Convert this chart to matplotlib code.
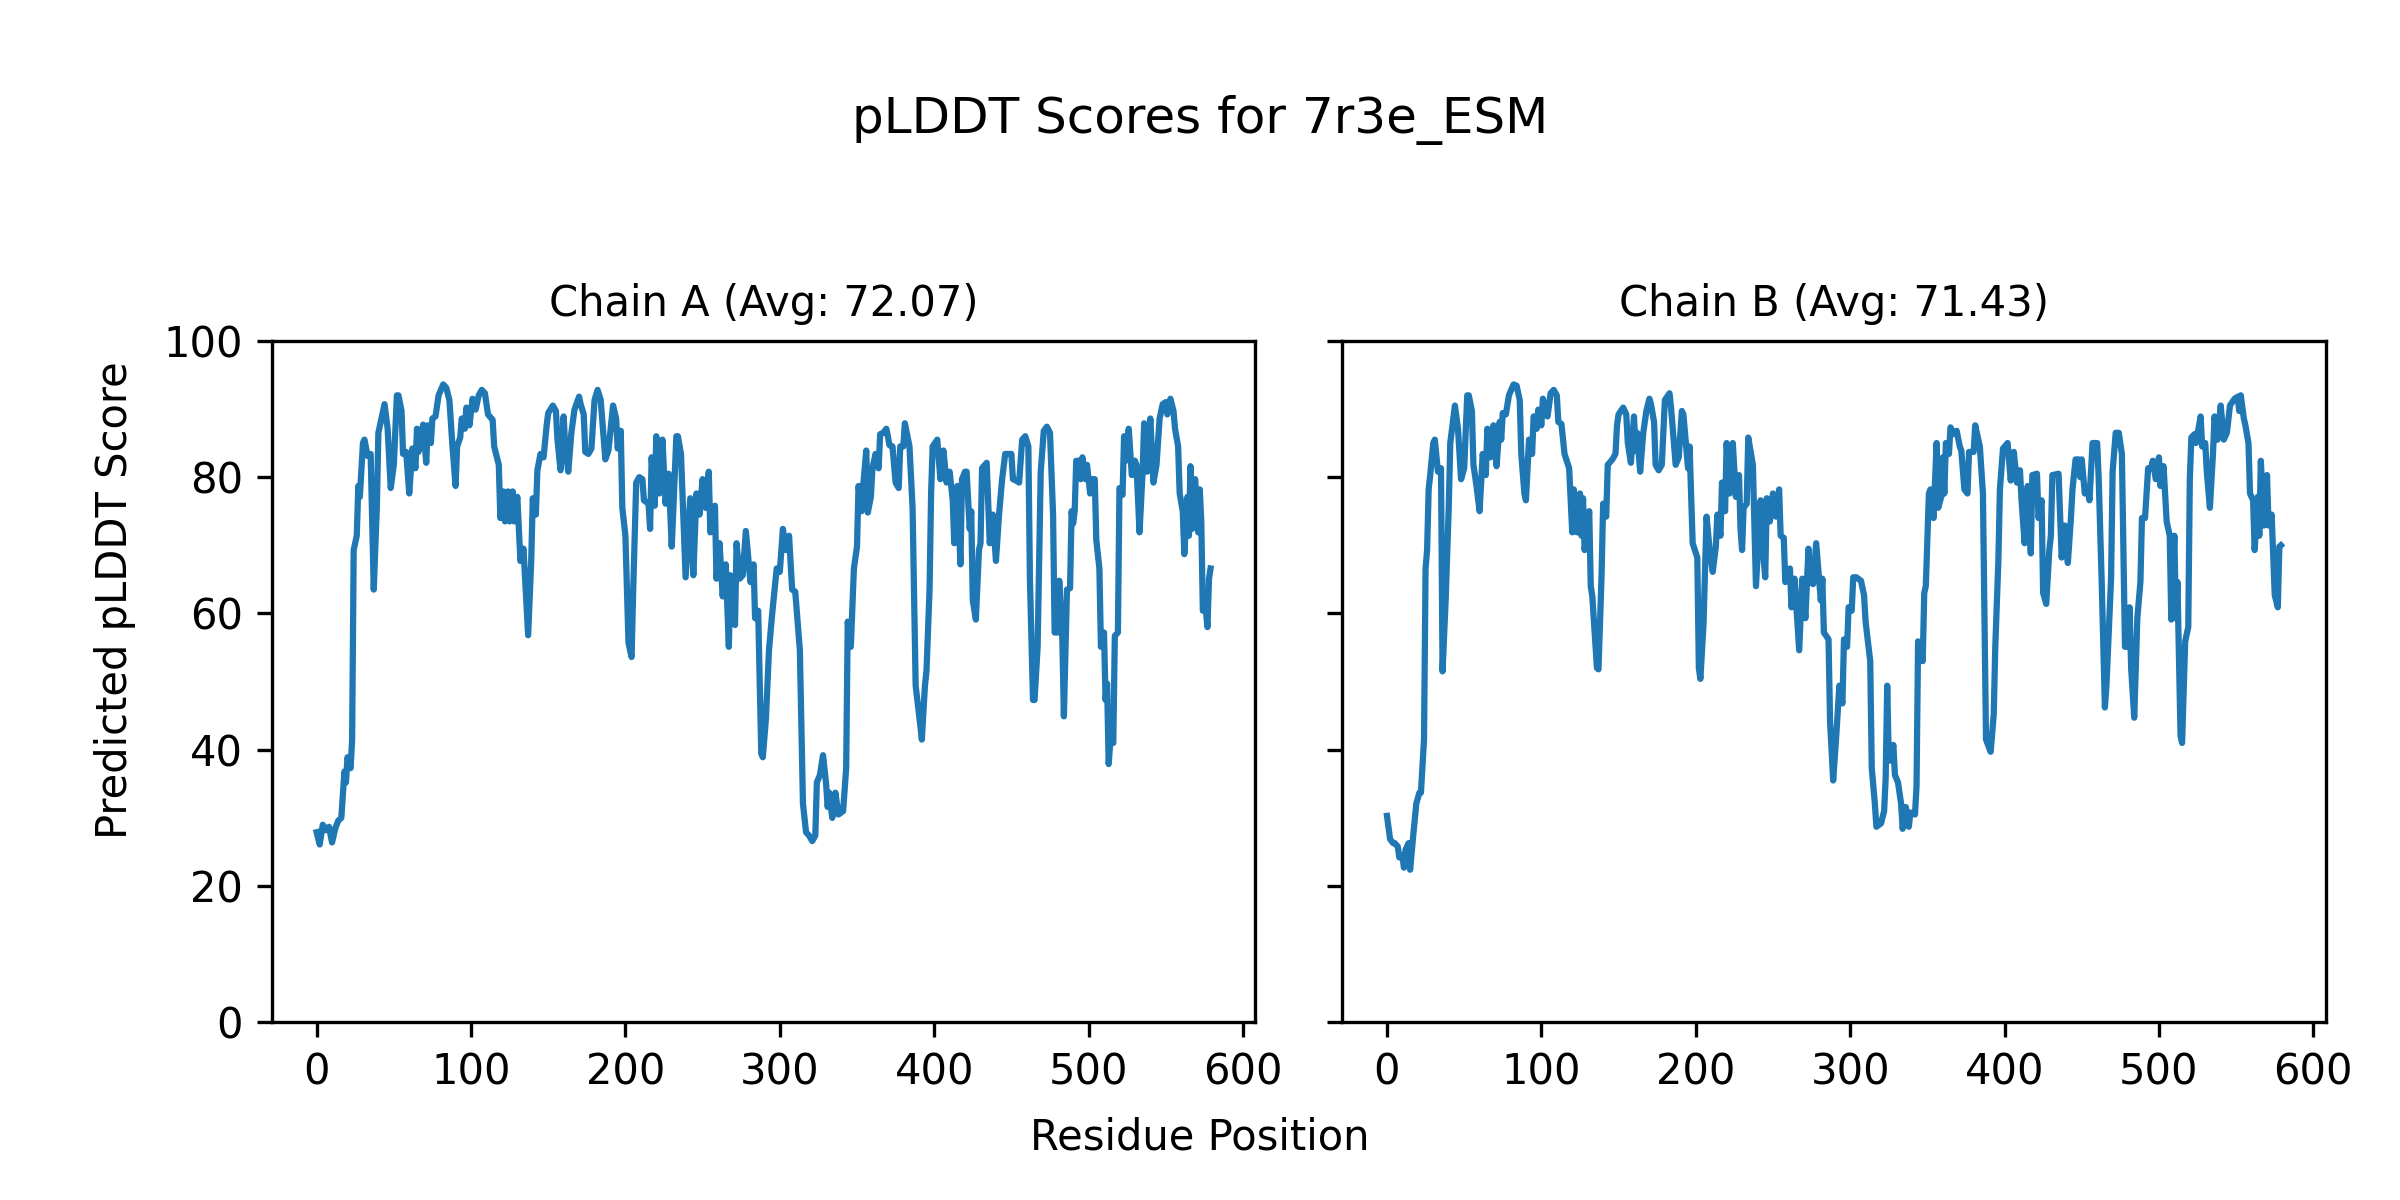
"""
pLDDT per-residue plot for the two chains of 7r3e_ESM
"""
import matplotlib
matplotlib.use('Agg')
import matplotlib.pyplot as plt

model_name = '7r3e_ESM'
chain_ids = ['A', 'B']
chain_avgs = [72.07, 71.43]

# values (residue position, pLDDT)
chain_a_pos = [0, 2, 4, 6, 8, 10, 12, 14, 16, 18, 19, 20, 22, 23, 24, 26, 27, 28, 30, 31,
               33, 35, 37, 39, 40, 44, 46, 48, 50, 52, 53, 55, 56, 58, 60, 62, 64, 65, 66, 69,
               71, 72, 74, 75, 77, 79, 82, 84, 86, 88, 90, 91, 93, 94, 96, 97, 99, 101, 103, 105,
               107, 109, 111, 114, 115, 118, 119, 121, 122, 124, 125, 127, 128, 130, 132, 134, 137, 139, 140, 142,
               143, 145, 147, 149, 150, 153, 155, 156, 158, 160, 161, 163, 165, 167, 170, 171, 173, 174, 176, 178,
               180, 182, 184, 187, 189, 192, 194, 195, 197, 198, 200, 202, 204, 205, 207, 209, 211, 212, 215, 216,
               217, 219, 220, 222, 224, 226, 228, 230, 231, 233, 234, 236, 239, 242, 244, 246, 248, 250, 252, 254,
               255, 258, 259, 261, 263, 265, 267, 268, 271, 272, 274, 276, 278, 281, 283, 284, 286, 288, 289, 291,
               293, 295, 298, 300, 302, 304, 306, 308, 310, 313, 315, 317, 319, 321, 323, 324, 326, 328, 330, 331,
               332, 334, 336, 338, 341, 343, 344, 346, 348, 350, 351, 353, 354, 356, 357, 359, 360, 362, 364, 365,
               367, 369, 370, 371, 373, 375, 377, 378, 380, 381, 384, 386, 388, 391, 392, 394, 395, 397, 398, 399,
               402, 404, 406, 408, 410, 412, 413, 415, 417, 418, 420, 421, 423, 424, 425, 427, 429, 430, 431, 434,
               436, 438, 440, 442, 444, 446, 448, 450, 451, 453, 455, 457, 459, 461, 462, 464, 465, 467, 469, 471,
               473, 475, 477, 478, 480, 481, 483, 484, 486, 488, 489, 490, 491, 492, 494, 495, 496, 498, 499, 501,
               502, 504, 505, 507, 508, 510, 511, 512, 513, 514, 516, 517, 519, 520, 522, 523, 524, 526, 528, 530,
               531, 533, 535, 536, 538, 540, 542, 544, 546, 548, 550, 551, 553, 555, 556, 558, 559, 561, 562, 564,
               565, 566, 567, 569, 571, 572, 573, 574, 576, 577, 578, 579]
chain_a_plddt = [27.9, 26.1, 29.0, 28.2, 28.7, 26.4, 28.4, 29.6, 30.0, 36.8, 35.2, 38.9, 37.3, 41.5, 69.3, 71.4, 78.7, 77.1, 85.0, 85.5,
                 83.1, 83.4, 63.5, 75.5, 86.5, 90.7, 87.1, 78.4, 81.8, 92.0, 92.0, 89.7, 83.4, 83.7, 77.6, 84.2, 81.3, 87.1, 83.7, 87.7,
                 82.1, 87.6, 85.0, 88.6, 88.9, 92.0, 93.6, 93.1, 91.3, 84.5, 78.7, 84.5, 85.8, 88.6, 87.1, 90.2, 87.6, 91.5, 89.9, 92.0,
                 92.8, 92.3, 89.2, 88.4, 84.5, 81.8, 74.0, 77.9, 73.5, 77.9, 73.5, 77.9, 73.5, 77.1, 67.7, 69.5, 56.8, 67.7, 76.9, 74.5,
                 81.0, 83.4, 82.9, 87.6, 89.4, 90.5, 89.7, 85.5, 81.0, 88.9, 84.5, 80.8, 86.5, 89.9, 91.8, 90.7, 89.2, 83.7, 83.4, 84.2,
                 91.3, 92.8, 91.3, 82.6, 83.9, 90.5, 88.6, 84.2, 86.8, 75.5, 71.4, 55.7, 53.6, 63.0, 79.2, 80.0, 79.7, 76.6, 76.1, 72.4,
                 82.9, 75.8, 86.0, 77.6, 85.5, 76.1, 80.5, 69.8, 75.0, 86.0, 86.0, 83.4, 65.3, 76.9, 65.6, 77.6, 74.5, 79.7, 75.5, 80.8,
                 71.9, 75.8, 65.1, 70.3, 62.5, 67.2, 55.1, 65.6, 58.3, 70.3, 65.1, 65.6, 72.1, 64.6, 67.2, 59.3, 60.4, 39.4, 38.9, 44.5,
                 54.6, 59.8, 66.6, 66.1, 72.4, 69.3, 71.4, 63.5, 63.2, 54.6, 32.1, 27.9, 27.4, 26.6, 27.4, 35.2, 36.3, 39.2, 35.0, 31.6,
                 33.7, 30.0, 33.7, 30.5, 31.0, 37.3, 58.8, 55.1, 66.6, 69.8, 78.7, 75.0, 78.7, 83.9, 74.8, 77.1, 81.3, 83.4, 81.3, 86.3,
                 86.5, 87.1, 86.0, 84.7, 84.5, 79.2, 78.4, 84.5, 84.5, 87.9, 84.5, 75.5, 49.4, 43.6, 41.5, 49.4, 51.5, 63.5, 77.6, 84.5,
                 85.5, 79.7, 83.9, 79.2, 80.8, 76.6, 70.3, 78.7, 67.2, 79.7, 80.8, 80.8, 72.4, 75.0, 61.9, 59.1, 69.3, 70.3, 81.3, 82.1,
                 70.3, 74.5, 67.7, 74.5, 79.7, 83.4, 83.4, 83.4, 79.7, 79.5, 79.2, 85.5, 86.0, 84.5, 65.1, 47.3, 47.3, 55.1, 80.8, 86.8,
                 87.4, 86.5, 74.5, 57.2, 57.2, 64.8, 56.2, 44.9, 63.5, 63.7, 75.0, 73.2, 75.0, 82.4, 82.4, 79.7, 82.9, 79.7, 81.8, 77.6,
                 79.7, 79.7, 70.8, 66.6, 55.1, 57.2, 47.3, 49.7, 37.9, 41.0, 41.0, 56.7, 57.2, 78.4, 77.4, 86.0, 82.4, 87.1, 80.3, 82.4,
                 81.8, 71.9, 80.8, 87.9, 80.8, 88.6, 79.2, 81.8, 88.6, 90.7, 91.0, 89.2, 91.5, 89.7, 87.1, 84.5, 77.6, 75.0, 68.7, 77.1,
                 71.4, 81.6, 72.4, 79.7, 71.9, 78.2, 73.5, 60.4, 60.4, 58.0, 65.1, 66.6]

chain_b_pos = [0, 2, 4, 5, 7, 8, 10, 11, 12, 14, 15, 17, 19, 21, 22, 24, 25, 26, 27, 28,
               30, 31, 33, 35, 36, 38, 40, 41, 44, 46, 48, 50, 52, 53, 55, 56, 58, 60, 62, 64,
               65, 67, 69, 71, 73, 74, 75, 77, 79, 82, 84, 86, 87, 89, 90, 92, 94, 95, 97, 98,
               100, 101, 104, 106, 108, 110, 111, 113, 115, 118, 120, 121, 123, 125, 126, 127, 128, 131, 132, 133,
               136, 137, 139, 140, 142, 143, 146, 148, 149, 150, 153, 155, 156, 158, 160, 161, 162, 164, 166, 168,
               170, 171, 173, 174, 176, 178, 180, 183, 184, 187, 189, 191, 192, 195, 196, 198, 201, 202, 203, 205,
               207, 209, 211, 213, 214, 216, 217, 219, 220, 222, 224, 226, 228, 229, 230, 231, 233, 234, 237, 239,
               242, 243, 245, 246, 248, 250, 252, 254, 255, 257, 258, 261, 262, 264, 267, 269, 271, 273, 274, 276,
               278, 281, 282, 283, 286, 287, 289, 291, 293, 295, 296, 298, 299, 301, 302, 304, 307, 309, 310, 313,
               314, 316, 317, 320, 322, 323, 324, 325, 326, 328, 329, 331, 333, 334, 336, 338, 339, 342, 343, 344,
               347, 348, 349, 351, 352, 354, 356, 357, 359, 360, 361, 362, 364, 365, 367, 369, 371, 372, 374, 376,
               377, 380, 381, 384, 386, 388, 391, 393, 394, 396, 397, 399, 402, 404, 406, 408, 410, 411, 413, 415,
               417, 418, 421, 422, 424, 425, 427, 429, 430, 431, 435, 437, 439, 441, 443, 444, 446, 448, 449, 450,
               452, 454, 455, 457, 460, 461, 463, 465, 466, 469, 470, 472, 474, 476, 477, 478, 480, 481, 482, 484,
               486, 488, 489, 491, 493, 495, 496, 498, 500, 501, 503, 505, 507, 508, 510, 511, 512, 514, 515, 517,
               519, 520, 521, 523, 524, 527, 528, 530, 531, 533, 535, 536, 538, 540, 542, 544, 546, 549, 551, 552,
               553, 555, 556, 558, 559, 561, 562, 564, 565, 566, 568, 569, 570, 571, 573, 575, 577, 578, 579]
chain_b_plddt = [30.3, 26.9, 26.3, 26.3, 25.8, 24.2, 24.5, 22.7, 25.3, 26.3, 22.4, 27.4, 32.1, 33.7, 33.7, 41.5, 66.6, 69.3, 78.2, 80.3,
                 85.0, 85.5, 80.8, 81.3, 51.5, 61.9, 75.5, 85.0, 90.5, 87.1, 79.7, 81.3, 92.0, 92.0, 89.7, 81.8, 78.7, 75.0, 83.4, 80.3,
                 87.1, 82.9, 87.6, 81.6, 88.1, 85.5, 89.4, 89.2, 92.0, 93.6, 93.4, 91.3, 83.4, 77.6, 76.6, 85.5, 83.4, 88.9, 87.1, 89.9,
                 87.6, 91.5, 88.9, 92.3, 92.8, 92.0, 88.1, 87.8, 83.4, 81.3, 71.9, 78.2, 71.9, 77.6, 71.4, 76.9, 69.3, 75.0, 64.0, 62.5,
                 52.0, 51.8, 65.6, 76.1, 74.2, 81.8, 82.6, 83.4, 87.6, 89.2, 90.2, 89.2, 85.0, 82.1, 88.9, 83.9, 86.5, 80.8, 86.5, 89.7,
                 91.5, 90.7, 88.1, 81.8, 81.0, 81.8, 91.3, 92.3, 90.2, 81.8, 82.9, 89.7, 89.2, 81.3, 84.5, 70.3, 68.2, 52.0, 50.4, 58.3,
                 74.2, 69.3, 66.1, 69.8, 74.5, 71.4, 79.2, 75.0, 85.0, 77.6, 85.0, 77.1, 80.3, 72.4, 69.3, 75.5, 76.1, 85.8, 81.8, 64.0,
                 76.6, 70.6, 65.3, 76.9, 73.5, 77.6, 74.2, 78.2, 71.4, 71.1, 64.6, 66.6, 60.9, 65.1, 54.6, 65.1, 59.3, 69.5, 64.6, 64.3,
                 70.3, 61.9, 65.1, 57.2, 56.2, 44.1, 35.5, 42.0, 49.4, 46.8, 56.2, 55.1, 60.9, 60.4, 65.3, 65.3, 64.8, 62.7, 58.8, 53.0,
                 37.3, 32.1, 28.7, 29.2, 31.0, 35.8, 49.4, 38.9, 38.4, 40.7, 36.3, 35.2, 32.1, 28.4, 31.6, 28.7, 30.8, 30.5, 34.7, 55.9,
                 53.0, 63.0, 64.0, 77.6, 78.2, 74.0, 85.0, 75.5, 77.1, 82.9, 77.6, 85.0, 83.4, 87.3, 86.3, 86.8, 84.5, 83.9, 78.2, 77.6,
                 83.7, 83.7, 87.6, 84.5, 77.6, 41.5, 39.7, 45.2, 55.1, 67.7, 78.2, 84.2, 85.0, 79.5, 83.7, 79.2, 81.0, 76.6, 70.3, 78.7,
                 68.8, 80.3, 80.5, 74.0, 76.6, 63.0, 61.4, 69.3, 71.4, 80.3, 80.5, 68.2, 72.9, 67.4, 74.0, 78.2, 82.6, 82.6, 80.0, 82.6,
                 77.6, 78.2, 76.6, 85.0, 85.0, 79.7, 64.0, 46.2, 49.4, 65.1, 80.8, 86.5, 86.5, 83.4, 69.3, 55.1, 55.1, 60.9, 52.0, 44.7,
                 59.3, 64.6, 74.0, 74.0, 81.3, 81.3, 82.4, 79.7, 82.9, 78.7, 81.6, 73.5, 71.4, 59.1, 71.4, 59.3, 64.6, 42.0, 41.0, 55.9,
                 58.0, 79.7, 85.8, 86.3, 85.0, 88.9, 84.5, 85.0, 80.8, 75.5, 83.4, 88.9, 85.5, 90.5, 85.5, 86.5, 90.5, 91.5, 91.8, 89.7,
                 92.0, 88.6, 87.6, 85.0, 77.6, 76.6, 69.3, 77.1, 71.4, 82.4, 72.9, 78.7, 80.3, 72.9, 74.5, 62.7, 60.9, 69.8, 70.0]

chain_pos = [chain_a_pos, chain_b_pos]
chain_plddt = [chain_a_plddt, chain_b_plddt]

fig, axes = plt.subplots(1, 2, figsize=(8, 4), sharey=True)
fig.subplots_adjust(left=0.1133, right=0.969, top=0.716, bottom=0.148, wspace=0.0885)

for ax, cid, avg, pos, vals in zip(axes, chain_ids, chain_avgs, chain_pos, chain_plddt):
    ax.plot(pos, vals, color='tab:blue', linewidth=1.5)
    ax.set_title(f'Chain {cid} (Avg: {avg:.2f})', fontsize=10)
    ax.set_ylim(0, 100)

fig.suptitle(f'pLDDT Scores for {model_name}', y=0.90, va='center', fontsize=12)
fig.supxlabel('Residue Position', y=0.0525, va='center', fontsize=10)
fig.supylabel('Predicted pLDDT Score', x=0.048, ha='center', fontsize=10)

plt.savefig('out.png', dpi=300)
plt.close()
